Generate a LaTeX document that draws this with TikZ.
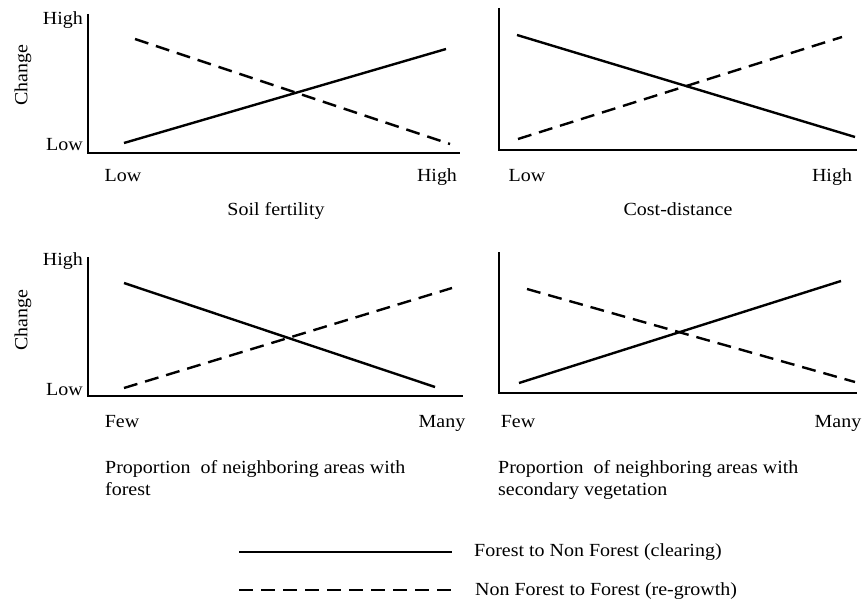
\documentclass[tikz,border=0pt]{standalone}
\usepackage{fontspec}
\setmainfont{Liberation Serif}[FakeStretch=1.08]
\usetikzlibrary{positioning}

\begin{document}
\begin{tikzpicture}[x=1bp, y=-1bp,
    every node/.style={font=\fontsize{18.5bp}{22bp}\selectfont, inner sep=0pt},
    axis/.style={line width=1.2bp},
    clearing/.style={line width=2.4bp},
    regrowth/.style={line width=2.4bp, dash pattern=on 14bp off 8bp}]
    \useasboundingbox (0,0) rectangle (864,604);

    % top left: soil fertility
    \coordinate (atop1) at (88,14);
    \coordinate (aorg1) at (88,153);
    \coordinate (aend1) at (460,153);
    \draw [axis] (atop1) -- (aorg1) -- (aend1);
    \node (yhi1) [anchor=base east] at (83,25) {High};
    \node (ylo1) [anchor=base east] at (83,151) {Low};
    \node (ych1) [rotate=90] at (23,75) {Change};
    \node (xlo1) [anchor=base] at (123,182) {Low};
    \node (xhi1) [anchor=base] at (437,182) {High};
    \node (cap1) [anchor=base] at (276,216) {Soil fertility};
    \coordinate (cla1) at (124,143);
    \coordinate (clb1) at (446,49);
    \coordinate (rga1) at (135,39);
    \coordinate (rgb1) at (450,144);
    \draw [clearing] (cla1) -- (clb1);
    \draw [regrowth] (rga1) -- (rgb1);

    % top right: cost-distance
    \coordinate (atop2) at (499,8);
    \coordinate (aorg2) at (499,150);
    \coordinate (aend2) at (857,150);
    \draw [axis] (atop2) -- (aorg2) -- (aend2);
    \node (xlo2) [anchor=base] at (527,182) {Low};
    \node (xhi2) [anchor=base] at (832,182) {High};
    \node (cap2) [anchor=base] at (678,216) {Cost-distance};
    \coordinate (cla2) at (517,35);
    \coordinate (clb2) at (855,137);
    \coordinate (rga2) at (518,139);
    \coordinate (rgb2) at (842,37);
    \draw [clearing] (cla2) -- (clb2);
    \draw [regrowth] (rga2) -- (rgb2);

    % bottom left: neighbouring forest
    \coordinate (atop3) at (88,257);
    \coordinate (aorg3) at (88,396);
    \coordinate (aend3) at (463,396);
    \draw [axis] (atop3) -- (aorg3) -- (aend3);
    \node (yhi3) [anchor=base east] at (83,265) {High};
    \node (ylo3) [anchor=base east] at (83,395) {Low};
    \node (ych3) [rotate=90] at (23,320) {Change};
    \node (xlo3) [anchor=base] at (122,427) {Few};
    \node (xhi3) [anchor=base] at (442,427) {Many};
    \node (cap3) [anchor=base west, align=left] at (105,495)
        {Proportion~ of neighboring areas with\\forest};
    \coordinate (cla3) at (124,283);
    \coordinate (clb3) at (435,387);
    \coordinate (rga3) at (124,388);
    \coordinate (rgb3) at (452,288);
    \draw [clearing] (cla3) -- (clb3);
    \draw [regrowth] (rga3) -- (rgb3);

    % bottom right: neighbouring secondary vegetation
    \coordinate (atop4) at (499,252);
    \coordinate (aorg4) at (499,393);
    \coordinate (aend4) at (857,393);
    \draw [axis] (atop4) -- (aorg4) -- (aend4);
    \node (xlo4) [anchor=base] at (518,427) {Few};
    \node (xhi4) [anchor=base] at (838,427) {Many};
    \node (cap4) [anchor=base west, align=left] at (498,495)
        {Proportion~ of neighboring areas with\\secondary vegetation};
    \coordinate (cla4) at (519,383);
    \coordinate (clb4) at (841,281);
    \coordinate (rga4) at (527,289);
    \coordinate (rgb4) at (855,382);
    \draw [clearing] (cla4) -- (clb4);
    \draw [regrowth] (rga4) -- (rgb4);

    % legend
    \coordinate (lga) at (239,552);
    \coordinate (lgb) at (452,552);
    \coordinate (lgc) at (239,590);
    \coordinate (lgd) at (452,590);
    \draw [clearing] (lga) -- (lgb);
    \draw [regrowth] (lgc) -- (lgd);
    \node (lgclr) [anchor=base west] at (474,556) {Forest to Non Forest (clearing)};
    \node (lgrgr) [anchor=base west] at (475,595) {Non Forest to Forest (re-growth)};
\end{tikzpicture}
\end{document}
